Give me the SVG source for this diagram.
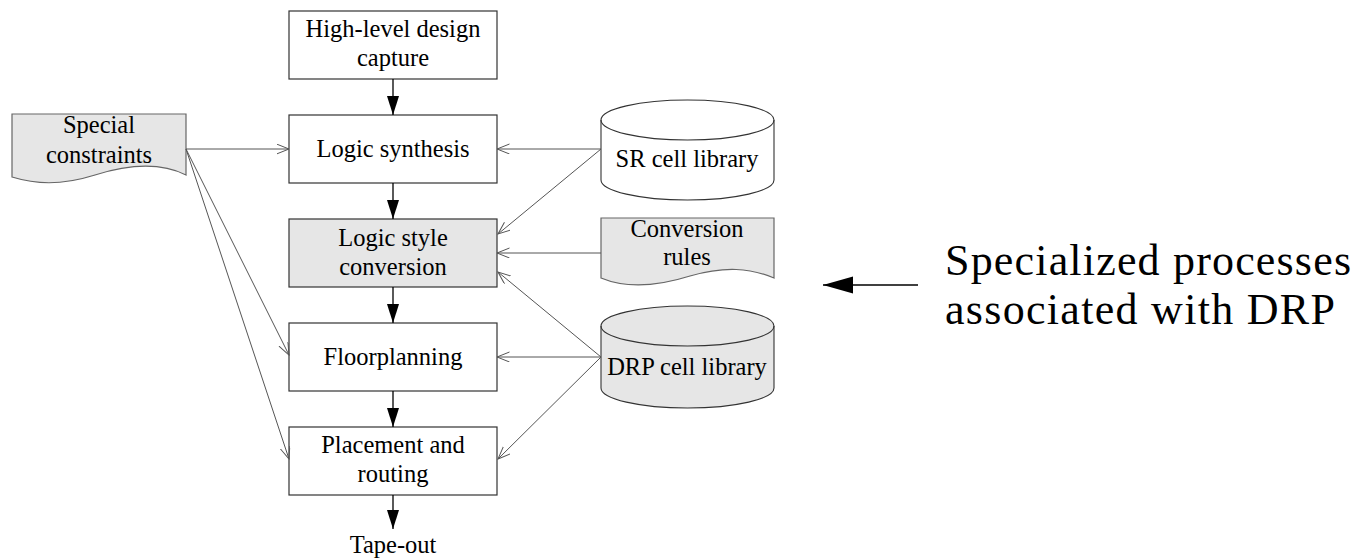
<svg xmlns="http://www.w3.org/2000/svg" width="1363" height="559" viewBox="0 0 1363 559">
  <defs>
    <marker id="solid" markerUnits="userSpaceOnUse" markerWidth="20" markerHeight="14" refX="19" refY="6" orient="auto">
      <path d="M0,0 L19,6 L0,12 Z" fill="#000"/>
    </marker>
    <marker id="open" markerUnits="userSpaceOnUse" markerWidth="14" markerHeight="12" refX="12.5" refY="5" orient="auto">
      <path d="M0,0 L12.5,5 L0,10" fill="none" stroke="#555" stroke-width="1"/>
    </marker>
    <marker id="big" markerUnits="userSpaceOnUse" markerWidth="32" markerHeight="20" refX="30" refY="8.5" orient="auto">
      <path d="M0,0 L30,8.5 L0,17 Z" fill="#000"/>
    </marker>
  </defs>
  <style>
    .box { fill: #fff; stroke: #333; stroke-width: 1.2; }
    .shaded { fill: #e6e6e6; }
    .doc { fill: #e6e6e6; stroke: #666; stroke-width: 1.2; }
    .cyl { stroke: #333; stroke-width: 1.1; }
    text { font-family: "Liberation Serif", "Times New Roman", serif; font-size: 24.5px; fill: #000; text-anchor: middle; }
    .big { font-size: 44px; text-anchor: start; }
    .flow { stroke: #000; stroke-width: 1.3; fill: none; }
    .feed { stroke: #555; stroke-width: 1; fill: none; }
  </style>

  <!-- main flow -->
  <g id="high-level">
    <rect class="box" x="289" y="11" width="208" height="68"/>
    <text x="393" y="37">High-level design</text>
    <text x="393" y="66">capture</text>
  </g>
  <g id="logic-synthesis">
    <rect class="box" x="289" y="115" width="208" height="68"/>
    <text x="393" y="157">Logic synthesis</text>
  </g>
  <g id="logic-style-conversion">
    <rect class="box shaded" x="289" y="219" width="208" height="68"/>
    <text x="393" y="246">Logic style</text>
    <text x="393" y="275">conversion</text>
  </g>
  <g id="floorplanning">
    <rect class="box" x="289" y="323" width="208" height="68"/>
    <text x="393" y="365">Floorplanning</text>
  </g>
  <g id="placement-routing">
    <rect class="box" x="289" y="427" width="208" height="68"/>
    <text x="393" y="453">Placement and</text>
    <text x="393" y="482">routing</text>
  </g>
  <g id="tape-out">
    <text x="393" y="553">Tape-out</text>
  </g>

  <!-- inputs -->
  <g id="special-constraints">
    <path class="doc" d="M12,114 L186,114 L186,175 C160,162 130,164 95,175 C60,186 35,184 12,177 Z"/>
    <text x="99" y="133">Special</text>
    <text x="99" y="163">constraints</text>
  </g>
  <g id="sr-cell-library">
    <path class="cyl" fill="#fff" d="M601,120 L601,180 A86.5,20 0 0 0 774,180 L774,120 A86.5,20 0 0 0 601,120 Z"/>
    <path class="cyl" fill="none" d="M601,120 A86.5,20 0 0 0 774,120"/>
    <text x="687" y="167">SR cell library</text>
  </g>
  <g id="conversion-rules">
    <path class="doc" d="M601,218 L774,218 L774,278 C750,268 725,266 690,276 C655,287 625,288 601,278 Z"/>
    <text x="687" y="237">Conversion</text>
    <text x="687" y="265">rules</text>
  </g>
  <g id="drp-cell-library">
    <path class="cyl" fill="#e6e6e6" d="M601,326 L601,388 A86.5,20 0 0 0 774,388 L774,326 A86.5,20 0 0 0 601,326 Z"/>
    <path class="cyl" fill="none" d="M601,326 A86.5,20 0 0 0 774,326"/>
    <text x="687" y="375">DRP cell library</text>
  </g>

  <!-- legend -->
  <g id="legend">
    <line x1="918" y1="285" x2="823" y2="285" stroke="#000" stroke-width="1.5" marker-end="url(#big)"/>
    <text class="big" x="945" y="275" textLength="406" lengthAdjust="spacing">Specialized processes</text>
    <text class="big" x="945" y="324" textLength="390" lengthAdjust="spacing">associated with DRP</text>
  </g>

  <!-- connectors -->
  <g id="connectors">
    <line class="flow" x1="393" y1="79" x2="393" y2="115" marker-end="url(#solid)"/>
    <line class="flow" x1="393" y1="183" x2="393" y2="219" marker-end="url(#solid)"/>
    <line class="flow" x1="393" y1="287" x2="393" y2="323" marker-end="url(#solid)"/>
    <line class="flow" x1="393" y1="391" x2="393" y2="427" marker-end="url(#solid)"/>
    <line class="flow" x1="393" y1="495" x2="393" y2="529" marker-end="url(#solid)"/>

    <line class="feed" x1="186" y1="149" x2="289" y2="149" marker-end="url(#open)"/>
    <line class="feed" x1="186" y1="149" x2="289" y2="355" marker-end="url(#open)"/>
    <line class="feed" x1="186" y1="149" x2="289" y2="459" marker-end="url(#open)"/>

    <line class="feed" x1="601" y1="149" x2="497" y2="149" marker-end="url(#open)"/>
    <line class="feed" x1="601" y1="149" x2="498" y2="234" marker-end="url(#open)"/>
    <line class="feed" x1="601" y1="253" x2="497" y2="253" marker-end="url(#open)"/>
    <line class="feed" x1="601" y1="357" x2="498" y2="272" marker-end="url(#open)"/>
    <line class="feed" x1="601" y1="357" x2="497" y2="357" marker-end="url(#open)"/>
    <line class="feed" x1="601" y1="357" x2="498" y2="459" marker-end="url(#open)"/>
  </g>
</svg>
